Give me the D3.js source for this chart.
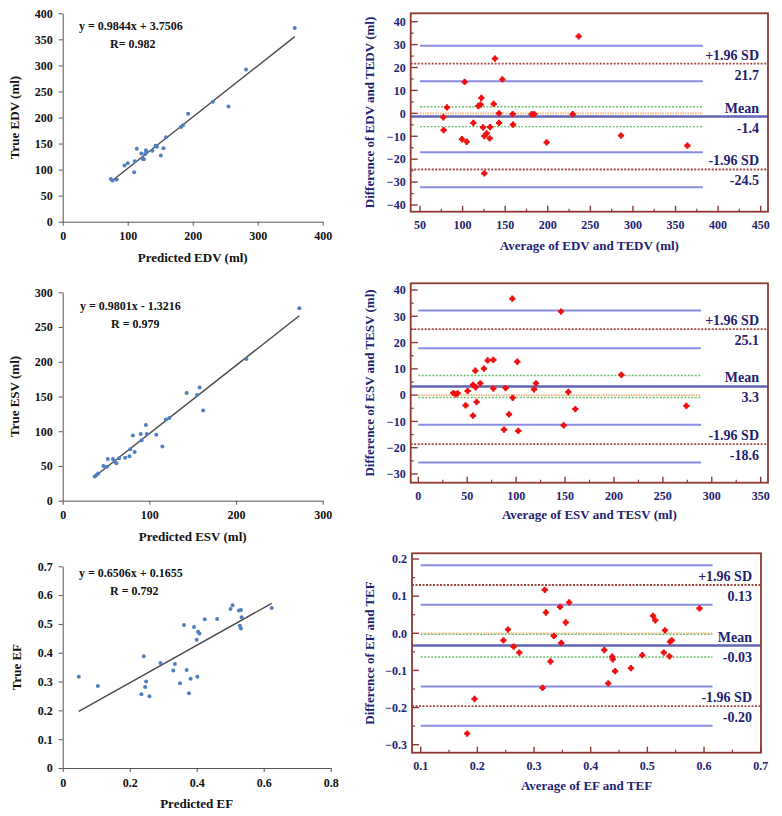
<!DOCTYPE html>
<html><head><meta charset="utf-8">
<script src="https://cdn.jsdelivr.net/npm/d3@7"></script>
<style>
html,body{margin:0;padding:0;background:#fff;}
svg{display:block;}
text{font-family:"Liberation Serif","Times New Roman",serif;font-weight:bold;}
</style></head>
<body>
<svg id="c" width="782" height="816"></svg>
<script>
// ---------- DATA ----------
const edvPred = [74, 77, 83, 95, 100, 110, 111, 114, 121, 125, 123, 128, 129, 127, 138, 143, 145, 151, 155, 159, 182, 185, 193, 231, 255, 282, 357];
const edvTrue = [82, 79, 81, 108, 112, 95, 116, 140, 131, 120, 121, 137, 134, 130, 136, 146, 144, 127, 141, 162, 182, 185, 207, 230, 221, 292, 372];
const esvPred = [37, 39, 41, 47, 52, 51, 58, 60, 62, 65, 72, 77, 78, 81, 83, 90, 91, 96, 97, 108, 115, 119, 123, 143, 155, 158, 162, 212, 273];
const esvTrue = [35, 37, 39, 50, 60, 49, 60, 56, 54, 61, 62, 64, 74, 94, 70, 96, 87, 109, 96, 95, 78, 117, 119, 155, 152, 163, 130, 204, 277];
const efPred = [0.048, 0.105, 0.235, 0.242, 0.246, 0.249, 0.259, 0.292, 0.330, 0.335, 0.350, 0.362, 0.370, 0.377, 0.382, 0.392, 0.400, 0.402, 0.404, 0.408, 0.424, 0.461, 0.501, 0.507, 0.526, 0.532, 0.529, 0.534, 0.532, 0.624];
const efTrue = [0.317, 0.285, 0.256, 0.388, 0.281, 0.300, 0.249, 0.364, 0.338, 0.361, 0.294, 0.496, 0.340, 0.259, 0.310, 0.489, 0.445, 0.317, 0.473, 0.467, 0.516, 0.517, 0.552, 0.565, 0.547, 0.548, 0.494, 0.523, 0.484, 0.555];

const edvAvg  = [77.4, 77.8, 81.7, 99.3, 102.4, 104.8, 112.6, 118.5, 121.2, 122, 124, 125.5, 125.5, 128.3, 132.2, 131.8, 136.5, 138, 142.8, 142.8, 146.7, 158.8, 159.2, 181.1, 184.2, 198.7, 229.3, 236.3, 286, 363.9];
const edvDiff = [-1.7, -7.3, 2.6, -11.3, 13.7, -12.4, -4.2, 3.2, 3.8, 6.7, -6.1, -9.9, -26.2, -8.7, -6, -10.9, 4.1, 23.9, 0, -4.2, 14.8, -0.3, -4.9, -0.4, -0.3, -12.7, -0.4, 33.6, -9.7, -14.1];
const esvAvg  = [35.8, 38.2, 40.2, 48.4, 50.4, 55.9, 55.9, 58.3, 58.6, 59.6, 63.4, 67.1, 70.9, 76.7, 76.7, 87.6, 89.3, 92.7, 96.1, 96.5, 101.2, 102.2, 118.3, 120.3, 145.9, 148.6, 153.4, 160.5, 207.6, 274];
const esvDiff = [0.8, 0.3, 0.7, -3.9, 1.6, -7.8, 3.9, 9.3, 3, -2.6, 4.5, 10.1, 13.2, 13.4, 2.5, -13.1, 2.7, -7.3, 36.7, -1, 12.7, -13.6, 2.2, 4.5, 31.8, -11.5, 1.2, -5.3, 7.7, -4.1];
const efAvg   = [0.182, 0.195, 0.246, 0.254, 0.264, 0.274, 0.315, 0.319, 0.321, 0.329, 0.335, 0.346, 0.348, 0.356, 0.362, 0.424, 0.431, 0.438, 0.439, 0.443, 0.471, 0.491, 0.510, 0.514, 0.529, 0.531, 0.539, 0.540, 0.543, 0.592];
const efDiff  = [-0.270, -0.177, -0.019, 0.010, -0.036, -0.052, -0.147, 0.117, 0.056, -0.076, -0.007, 0.071, -0.026, 0.029, 0.083, -0.045, -0.135, -0.063, -0.070, -0.102, -0.094, -0.059, 0.047, 0.035, -0.052, 0.008, -0.062, -0.023, -0.019, 0.067];

// regression: [slope, intercept]
const edvFit = [0.9844, 3.7506];
const esvFit = [0.9801, -1.3216];
const efFit  = [0.6506, 0.1655];
const edvEqLabels = ["y = 0.9844x + 3.7506", "R= 0.982"];
const esvEqLabels = ["y = 0.9801x - 1.3216", "R = 0.979"];
const efEqLabels  = ["y = 0.6506x + 0.1655", "R = 0.792"];

// Bland-Altman statistics: [mean, +1.96SD, -1.96SD]
const edvLoA = [-1.4, 21.7, -24.5];
const esvLoA = [3.3, 25.1, -18.6];
const efLoA  = [-0.033, 0.13, -0.196];
const edvLoALabels = ["-1.4", "21.7", "-24.5"];
const esvLoALabels = ["3.3", "25.1", "-18.6"];
const efLoALabels  = ["-0.03", "0.13", "-0.20"];
// confidence interval lines (blue): upper-limit CI pair, lower-limit CI pair
const edvCI = [29.5, 14, -17, -32.3];
const esvCI = [32.2, 17.8, -11.3, -25.6];
const efCI  = [0.183, 0.077, -0.143, -0.249];
// mean CI (green)
const edvMeanCI = [2.9, -5.8];
const esvMeanCI = [7.5, -0.9];
const efMeanCI  = [-0.003, -0.064];
// extent of the CI lines along x
const edvCIx = [50, 382];
const esvCIx = [0, 289];
const efCIx  = [0.1, 0.615];

const edvXTicks = [0, 100, 200, 300, 400];
const edvYTicks = [0, 50, 100, 150, 200, 250, 300, 350, 400];
const esvXTicks = [0, 100, 200, 300];
const esvYTicks = [0, 50, 100, 150, 200, 250, 300];
const efXTicks = [0, 0.2, 0.4, 0.6, 0.8];
const efYTicks = [0, 0.1, 0.2, 0.3, 0.4, 0.5, 0.6, 0.7];

const baEdvXTicks = [50, 100, 150, 200, 250, 300, 350, 400, 450];
const baEdvYTicks = [-40, -30, -20, -10, 0, 10, 20, 30, 40];
const baEsvXTicks = [0, 50, 100, 150, 200, 250, 300, 350];
const baEsvYTicks = [-30, -20, -10, 0, 10, 20, 30, 40];
const baEfXTicks = [0.1, 0.2, 0.3, 0.4, 0.5, 0.6, 0.7];
const baEfYTicks = [-0.3, -0.2, -0.1, 0.0, 0.1, 0.2];

// ---------- DRAW ----------
const svg = d3.select("#c");
const NAVY = "#1e2270";
const FRAME = "#8e3a34";

function scatterPanel(o) {
  const x = d3.scaleLinear().domain(o.xd).range(o.xr);
  const y = d3.scaleLinear().domain(o.yd).range(o.yr);
  const g = svg.append("g");
  const fmt = o.fmt || (d => d);
  g.append("g").attr("transform", `translate(0,${o.yr[0]})`)
    .call(d3.axisBottom(x).tickValues(o.xt).tickFormat(fmt).tickSize(4).tickSizeOuter(0).tickPadding(6))
    .call(a => { a.selectAll("path,line").attr("stroke", "#555"); a.selectAll("text").attr("font-size", 12).attr("fill", "#111"); });
  g.append("g").attr("transform", `translate(${o.xr[0]},0)`)
    .call(d3.axisLeft(y).tickValues(o.yt).tickFormat(fmt).tickSize(4).tickSizeOuter(0).tickPadding(6))
    .call(a => { a.selectAll("path,line").attr("stroke", "#555"); a.selectAll("text").attr("font-size", 12).attr("fill", "#111"); });
  const ext = d3.extent(o.px);
  g.append("line")
    .attr("x1", x(ext[0])).attr("y1", y(o.fit[0] * ext[0] + o.fit[1]))
    .attr("x2", x(ext[1])).attr("y2", y(o.fit[0] * ext[1] + o.fit[1]))
    .attr("stroke", "#4a4a4a").attr("stroke-width", 1.4);
  g.selectAll("circle.p").data(o.px).join("circle")
    .attr("cx", d => x(d)).attr("cy", (d, i) => y(o.py[i])).attr("r", 2)
    .attr("fill", "#4f7fbf");
  g.append("text").attr("x", o.eqX).attr("y", o.eqY).attr("font-size", 12).attr("fill", "#111").text(o.eq[0]);
  g.append("text").attr("x", o.eqX + 31).attr("y", o.eqY + 18).attr("font-size", 12).attr("fill", "#111").text(o.eq[1]);
  g.append("text").attr("x", (o.xr[0] + o.xr[1]) / 2).attr("y", o.xlY).attr("text-anchor", "middle")
    .attr("font-size", 13).attr("fill", "#111").text(o.xl);
  g.append("text").attr("transform", `translate(${o.ylX},${(o.yr[0] + o.yr[1]) / 2}) rotate(-90)`)
    .attr("text-anchor", "middle").attr("font-size", 13).attr("fill", "#111").text(o.yl);
}

function baPanel(o) {
  const x = d3.scaleLinear().domain(o.xd).range(o.xr);
  const y = d3.scaleLinear().domain(o.yd).range(o.yr);
  const g = svg.append("g");
  const [fx0, fx1, fy0, fy1] = o.frame;
  const fmtY = o.fmtY || (d => d3.format("d")(d).replace("-", "\u2212"));
  const fmtX = o.fmtX || (d => d);
  // minor ticks
  const xMinor = o.xMinor, yMinor = o.yMinor;
  g.selectAll("line.mx").data(xMinor).join("line")
    .attr("x1", d => x(d)).attr("x2", d => x(d)).attr("y1", fy1).attr("y2", fy1 - 3)
    .attr("stroke", FRAME).attr("stroke-width", 1.2);
  g.selectAll("line.my").data(yMinor).join("line")
    .attr("y1", d => y(d)).attr("y2", d => y(d)).attr("x1", fx0).attr("x2", fx0 + 3)
    .attr("stroke", FRAME).attr("stroke-width", 1.2);
  // major ticks
  g.selectAll("line.Mx").data(o.xt).join("line")
    .attr("x1", d => x(d)).attr("x2", d => x(d)).attr("y1", fy1).attr("y2", fy1 - 6)
    .attr("stroke", FRAME).attr("stroke-width", 1.4);
  g.selectAll("line.My").data(o.yt).join("line")
    .attr("y1", d => y(d)).attr("y2", d => y(d)).attr("x1", fx0).attr("x2", fx0 + 7)
    .attr("stroke", FRAME).attr("stroke-width", 1.4);
  g.selectAll("text.xt").data(o.xt).join("text")
    .attr("x", d => x(d)).attr("y", fy1 + 17).attr("text-anchor", "middle")
    .attr("font-size", 12).attr("fill", NAVY).text(fmtX);
  g.selectAll("text.yt").data(o.yt).join("text")
    .attr("x", fx0 - 5).attr("y", d => y(d) + 4.3).attr("text-anchor", "end")
    .attr("font-size", 12).attr("fill", NAVY).text(fmtY);

  const hline = (v, x0, x1, color, w, dash) => g.append("line")
    .attr("x1", x0).attr("x2", x1).attr("y1", y(v)).attr("y2", y(v))
    .attr("stroke", color).attr("stroke-width", w).attr("stroke-dasharray", dash || null);
  const cx0 = x(o.ciX[0]), cx1 = x(o.ciX[1]);
  // blue CI lines
  o.ci.forEach(v => hline(v, cx0, cx1, "#8a8ce2", 2));
  // zero line (orange) and mean CI (green)
  hline(0, cx0, cx1, "#f2b27a", 1.6, "1.5,1");
  o.meanCI.forEach(v => hline(v, cx0, cx1, "#6cbf6c", 1.4, "2,1.5"));
  // limits of agreement (dark red dotted)
  hline(o.loa[1], fx0, fx1, "#a04a44", 1.8, "2,1.5");
  hline(o.loa[2], fx0, fx1, "#a04a44", 1.8, "2,1.5");
  // mean line
  hline(o.loa[0], fx0, fx1, "#6264b4", 2.6);

  // points
  g.selectAll("path.pt").data(o.px).join("path")
    .attr("transform", (d, i) => `translate(${x(d)},${y(o.py[i])})`)
    .attr("d", d3.symbol(d3.symbolCross, 22)())
    .attr("fill", "#f01010");
  g.selectAll("circle.pt").data(o.px).join("circle")
    .attr("cx", d => x(d)).attr("cy", (d, i) => y(o.py[i])).attr("r", 2.4)
    .attr("fill", "#f01010");

  // labels
  const lx = fx1 - 9;
  const lab = (t, yy) => g.append("text").attr("x", lx).attr("y", yy).attr("text-anchor", "end")
    .attr("font-size", 14).attr("fill", NAVY).text(t);
  lab("+1.96 SD", y(o.loa[1]) - 4);
  lab(o.loaLab[1], y(o.loa[1]) + 16);
  lab("Mean", y(o.loa[0]) - 4);
  lab(o.loaLab[0], y(o.loa[0]) + 16);
  lab("-1.96 SD", y(o.loa[2]) - 4);
  lab(o.loaLab[2], y(o.loa[2]) + 16);

  // frame
  g.append("rect").attr("x", fx0).attr("y", fy0).attr("width", fx1 - fx0).attr("height", fy1 - fy0)
    .attr("fill", "none").attr("stroke", FRAME).attr("stroke-width", 1.8);

  g.append("text").attr("x", (fx0 + fx1) / 2).attr("y", o.xlY).attr("text-anchor", "middle")
    .attr("font-size", 13).attr("fill", NAVY).text(o.xl);
  g.append("text").attr("transform", `translate(${o.ylX},${(fy0 + fy1) / 2}) rotate(-90)`)
    .attr("text-anchor", "middle").attr("font-size", 13).attr("fill", NAVY).text(o.yl);
}

// scatter panels
scatterPanel({xd: [0, 400], xr: [62.7, 322.7], yd: [0, 400], yr: [221.7, 13.3], xt: edvXTicks, yt: edvYTicks,
  px: edvPred, py: edvTrue, fit: edvFit, eq: edvEqLabels, eqX: 79, eqY: 30,
  xl: "Predicted EDV (ml)", xlY: 262, yl: "True EDV (ml)", ylX: 19});
scatterPanel({xd: [0, 300], xr: [62.7, 322.7], yd: [0, 300], yr: [500.7, 292.3], xt: esvXTicks, yt: esvYTicks,
  px: esvPred, py: esvTrue, fit: esvFit, eq: esvEqLabels, eqX: 80, eqY: 310,
  xl: "Predicted ESV (ml)", xlY: 541, yl: "True ESV (ml)", ylX: 19});
scatterPanel({xd: [0, 0.8], xr: [62.7, 330.7], yd: [0, 0.7], yr: [768, 566.3], xt: efXTicks, yt: efYTicks,
  fmt: d => (d === 0 ? "0" : d3.format(".1f")(d)),
  px: efPred, py: efTrue, fit: efFit, eq: efEqLabels, eqX: 79, eqY: 576.5,
  xl: "Predicted EF", xlY: 808, yl: "True EF", ylX: 21});

// Bland-Altman panels
baPanel({xd: [50, 450], xr: [420, 760.7], yd: [-40, 40], yr: [205, 21.7], frame: [410.7, 768, 13.3, 211.7],
  xt: baEdvXTicks, yt: baEdvYTicks, xMinor: d3.range(75, 450, 50), yMinor: d3.range(-35, 40, 10),
  px: edvAvg, py: edvDiff, loa: edvLoA, loaLab: edvLoALabels, ci: edvCI, meanCI: edvMeanCI, ciX: edvCIx,
  xl: "Average of EDV and TEDV (ml)", xlY: 250, yl: "Difference of EDV and TEDV (ml)", ylX: 374});
baPanel({xd: [0, 350], xr: [418.3, 760.7], yd: [-30, 40], yr: [474, 290], frame: [410.7, 768, 283.3, 482.7],
  xt: baEsvXTicks, yt: baEsvYTicks, xMinor: d3.range(25, 350, 50), yMinor: d3.range(-25, 40, 10),
  px: esvAvg, py: esvDiff, loa: esvLoA, loaLab: esvLoALabels, ci: esvCI, meanCI: esvMeanCI, ciX: esvCIx,
  xl: "Average of ESV and TESV (ml)", xlY: 519, yl: "Difference of ESV and TESV (ml)", ylX: 374});
baPanel({xd: [0.1, 0.7], xr: [420.7, 760.7], yd: [-0.3, 0.2], yr: [744.7, 559], frame: [412, 761, 553.3, 752.7],
  xt: baEfXTicks, yt: baEfYTicks, xMinor: d3.range(0.15, 0.7, 0.1), yMinor: d3.range(-0.25, 0.2, 0.1),
  fmtY: d => d3.format(".1f")(d).replace("-", "\u2212"), fmtX: d => d3.format(".1f")(d),
  px: efAvg, py: efDiff, loa: efLoA, loaLab: efLoALabels, ci: efCI, meanCI: efMeanCI, ciX: efCIx,
  xl: "Average of EF and TEF", xlY: 790, yl: "Difference of EF and TEF", ylX: 374});
</script>
</body></html>
